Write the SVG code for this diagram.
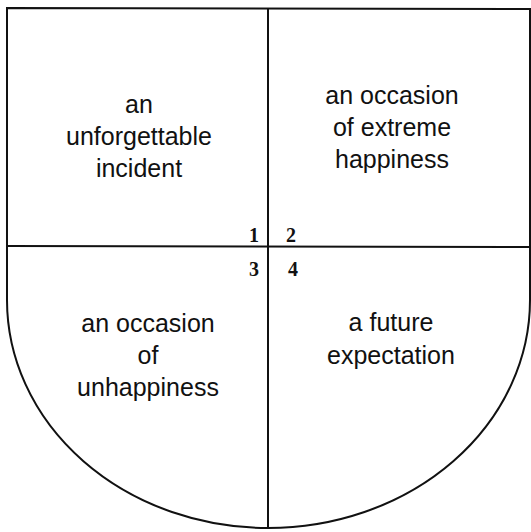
<svg xmlns="http://www.w3.org/2000/svg" width="531" height="532" viewBox="0 0 531 532">
  <style>
    .line { fill: none; stroke: #111; stroke-width: 2; }
    .lbl { font-family: "Liberation Sans", Arial, sans-serif; font-size: 25px; fill: #111; text-anchor: middle; }
    .num { font-family: "Liberation Serif", "Times New Roman", serif; font-size: 20px; font-weight: bold; fill: #111; text-anchor: middle; }
  </style>
  <rect width="531" height="532" fill="#ffffff"/>
  <g id="connectors">
    <path class="line" d="M7,8 L530,9 L530,300 A262,228 0 0 1 268,528 A261,228 0 0 1 7,300 Z"/>
    <line class="line" x1="268" y1="8" x2="268" y2="528"/>
    <line class="line" x1="7" y1="246" x2="530" y2="247"/>
  </g>
  <g id="q1">
    <text class="lbl" x="139" y="113">an</text>
    <text class="lbl" x="139" y="145">unforgettable</text>
    <text class="lbl" x="139" y="177">incident</text>
    <text class="num" x="254" y="242">1</text>
  </g>
  <g id="q2">
    <text class="lbl" x="392" y="104">an occasion</text>
    <text class="lbl" x="392" y="136">of extreme</text>
    <text class="lbl" x="392" y="168">happiness</text>
    <text class="num" x="291" y="242">2</text>
  </g>
  <g id="q3">
    <text class="lbl" x="148" y="332">an occasion</text>
    <text class="lbl" x="148" y="364">of</text>
    <text class="lbl" x="148" y="396">unhappiness</text>
    <text class="num" x="254" y="276">3</text>
  </g>
  <g id="q4">
    <text class="lbl" x="391" y="331">a future</text>
    <text class="lbl" x="391" y="364">expectation</text>
    <text class="num" x="293" y="276">4</text>
  </g>
</svg>
